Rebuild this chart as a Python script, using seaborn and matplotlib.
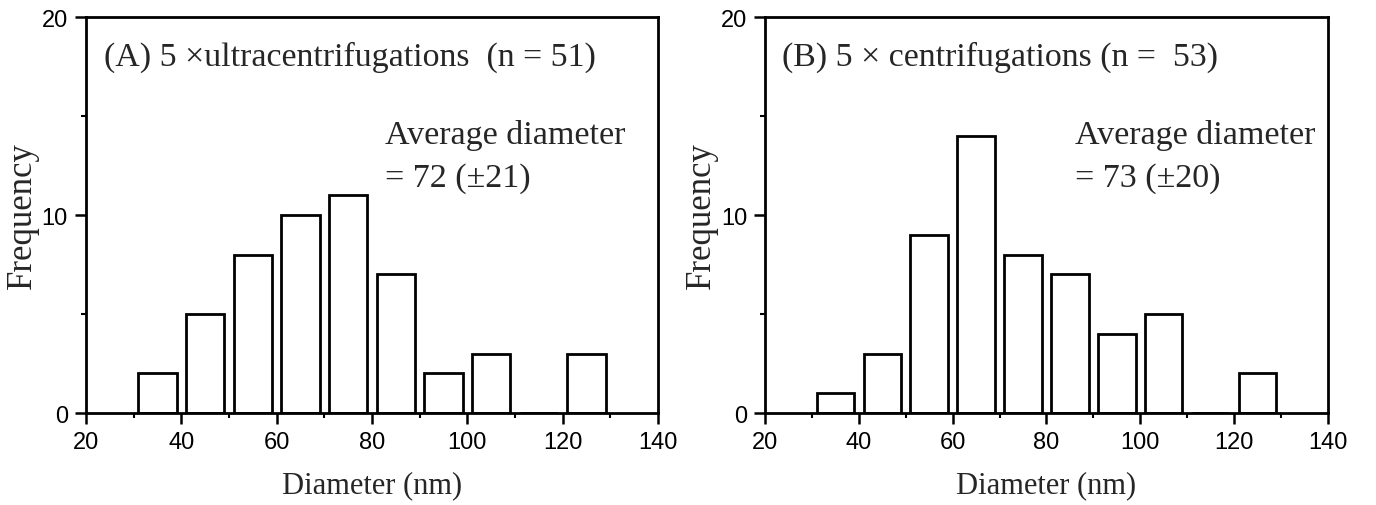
import numpy as np
import pandas as pd
import seaborn as sns
import matplotlib
matplotlib.use('Agg')
import matplotlib.pyplot as plt
from matplotlib.ticker import MultipleLocator

# histogram data, 10 nm bins
bin_edges = [30, 40, 50, 60, 70, 80, 90, 100, 110, 120, 130]
bin_centers = [35, 45, 55, 65, 75, 85, 95, 105, 115, 125]
counts_a = [2, 5, 8, 10, 11, 7, 2, 3, 0, 3]
counts_b = [1, 3, 9, 14, 8, 7, 4, 5, 0, 2]

titles = ['(A) 5 \u00d7ultracentrifugations  (n = 51)',
          '(B) 5 \u00d7 centrifugations (n =  53)']
averages = ['Average diameter\n= 72 (\u00b121)',
            'Average diameter\n= 73 (\u00b120)']

sns.set_style('ticks')
plt.rcParams['font.family'] = ['Liberation Sans', 'DejaVu Sans']

fig = plt.figure(figsize=(13.76, 5.06), dpi=100)
ax_a = fig.add_axes([0.0625, 0.1818, 0.4157, 0.7826])
ax_b = fig.add_axes([0.556, 0.1818, 0.409, 0.7826])

serif = ['Liberation Serif', 'DejaVu Serif']

for ax, counts, title, avg, tx, ax_x in [
        (ax_a, counts_a, titles[0], averages[0], 0.031, 0.523),
        (ax_b, counts_b, titles[1], averages[1], 0.03, 0.55)]:
    df = pd.DataFrame({'diameter': bin_centers, 'count': counts})
    sns.histplot(data=df, x='diameter', weights='count', bins=bin_edges,
                 shrink=0.8, color='white', edgecolor='black', linewidth=2,
                 alpha=1, ax=ax)
    ax.set_xlim(20, 140)
    ax.set_ylim(0, 20)
    ax.xaxis.set_major_locator(MultipleLocator(20))
    ax.xaxis.set_minor_locator(MultipleLocator(10))
    ax.yaxis.set_major_locator(MultipleLocator(10))
    ax.yaxis.set_minor_locator(MultipleLocator(5))
    ax.tick_params(which='major', direction='out', length=8, width=1.8,
                   labelsize=17, color='black', labelcolor='black', pad=5)
    ax.tick_params(which='minor', direction='out', length=3.5, width=1.5,
                   color='black')
    for sp in ax.spines.values():
        sp.set_visible(True)
        sp.set_linewidth(2)
        sp.set_color('black')
    ax.set_xlabel('Diameter (nm)', family=serif, fontsize=22, labelpad=12)
    ax.set_ylabel('Frequency', family=serif, fontsize=25, labelpad=2)
    ax.text(tx, 0.90, title, transform=ax.transAxes, family=serif,
            fontsize=24.4, ha='left', va='center')
    ax.text(ax_x, 0.742, avg, transform=ax.transAxes, family=serif,
            fontsize=24.5, ha='left', va='top', linespacing=1.5)

fig.savefig('out.png', dpi=100)
